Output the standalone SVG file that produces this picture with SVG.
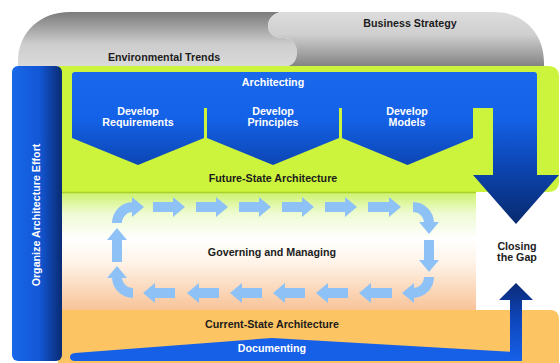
<svg xmlns="http://www.w3.org/2000/svg" width="560" height="363" viewBox="0 0 560 363">
<defs>
<style>
.t{font-family:"Liberation Sans",Arial,Helvetica,sans-serif;font-weight:bold;font-size:10.7px;text-anchor:middle}
.w{fill:#ffffff}
.k{fill:#1c1c1c}
.cy{fill:#8ec2f6}
.cys{fill:none;stroke:#8ec2f6;stroke-width:10}
</style>
<linearGradient id="gA" gradientUnits="userSpaceOnUse" x1="0" y1="12" x2="0" y2="66">
<stop offset="0" stop-color="#7b7b7b"/><stop offset="0.6" stop-color="#cdcdcd"/><stop offset="1" stop-color="#dadada"/>
</linearGradient>
<linearGradient id="gB" gradientUnits="userSpaceOnUse" x1="0" y1="12" x2="0" y2="66">
<stop offset="0" stop-color="#dcdcdc"/><stop offset="0.42" stop-color="#cfcfcf"/><stop offset="1" stop-color="#848484"/>
</linearGradient>
<linearGradient id="gBar" x1="0" y1="0" x2="1" y2="0">
<stop offset="0" stop-color="#1868ea"/><stop offset="0.55" stop-color="#1257d6"/><stop offset="1" stop-color="#0a2b72"/>
</linearGradient>
<linearGradient id="gArch" gradientUnits="userSpaceOnUse" x1="0" y1="72" x2="0" y2="224">
<stop offset="0" stop-color="#1a68ec"/><stop offset="0.3" stop-color="#1462e8"/><stop offset="0.62" stop-color="#0c45b2"/><stop offset="1" stop-color="#072a6e"/>
</linearGradient>
<linearGradient id="gGov" gradientUnits="userSpaceOnUse" x1="0" y1="192" x2="0" y2="310">
<stop offset="0" stop-color="#cdf26a"/><stop offset="0.18" stop-color="#eefbd2"/><stop offset="0.4" stop-color="#ffffff"/><stop offset="0.6" stop-color="#fff3e8"/><stop offset="1" stop-color="#f8c398"/>
</linearGradient>
<linearGradient id="gUp" gradientUnits="userSpaceOnUse" x1="0" y1="283" x2="0" y2="361">
<stop offset="0" stop-color="#0a2a78"/><stop offset="0.5" stop-color="#0f48bf"/><stop offset="1" stop-color="#1660e8"/>
</linearGradient>
</defs>

<rect width="560" height="363" fill="#ffffff"/>

<g id="environmental-trends">
<path d="M18,66 L18,62 C18,32 40,12 70,12 L280,12 C272,14 268,20 268,26 C268,33 274,38 283,38 C292,38 297,45 297,52 C297,60 293,65 288,66 Z" fill="url(#gA)"/>
<text class="t k" x="164" y="61">Environmental Trends</text>
</g>

<g id="business-strategy">
<path d="M280,12 L494,12 C524,12 544,34 544,62 L544,66 L288,66 C293,65 297,60 297,52 C297,45 292,38 283,38 C274,38 268,33 268,26 C268,20 272,14 280,12 Z" fill="url(#gB)"/>
<text class="t k" x="410" y="27">Business Strategy</text>
</g>

<g id="future-state-architecture">
<path d="M58,66 L548,66 Q559,66 559,77 L559,181 Q559,192 548,192 L58,192 Z" fill="#cdf43c"/>
<text class="t k" x="273" y="182">Future-State Architecture</text>
</g>

<g id="governing-and-managing">
<rect x="58" y="192" width="418" height="118" fill="url(#gGov)"/>
<line x1="58" y1="192.5" x2="476" y2="192.5" stroke="#a9d12e" stroke-width="1.5"/>
<text class="t k" x="272" y="256">Governing and Managing</text>
</g>

<g id="closing-the-gap">
<text class="t k" x="517" y="250">Closing</text>
<text class="t k" x="517" y="261">the Gap</text>
</g>

<g id="current-state-architecture">
<path d="M58,310 L550,310 Q559,310 559,319 L559,363 L58,363 Z" fill="#fcc462"/>
<text class="t k" x="272" y="328">Current-State Architecture</text>
</g>

<g id="organize-architecture-effort">
<rect x="12" y="66" width="50" height="295" rx="6" fill="url(#gBar)"/>
<text class="t w" transform="translate(40,215) rotate(-90)" x="0" y="0">Organize Architecture Effort</text>
</g>

<g id="architecting">
<path d="M72,108 L72,75 Q72,72 75,72 L534,72 Q537,72 537,75 L537,108 Z" fill="url(#gArch)"/>
<text class="t w" x="273" y="86">Architecting</text>
</g>

<g id="develop-requirements">
<path d="M72,105 L204,105 L204,138 L138,165 L72,138 Z" fill="url(#gArch)"/>
<text class="t w" x="138" y="115">Develop</text>
<text class="t w" x="138" y="126">Requirements</text>
</g>

<g id="develop-principles">
<path d="M207,105 L339,105 L339,138 L273,165 L207,138 Z" fill="url(#gArch)"/>
<text class="t w" x="273" y="115">Develop</text>
<text class="t w" x="273" y="126">Principles</text>
</g>

<g id="develop-models">
<path d="M342,105 L473,105 L473,138 L407.5,165 L342,138 Z" fill="url(#gArch)"/>
<text class="t w" x="407" y="115">Develop</text>
<text class="t w" x="407" y="126">Models</text>
</g>

<g id="documenting">
<path d="M70,357 Q70,353.5 75,353 L272,338 L516,352 L516,361 L75,361 Q70,361 70,357 Z" fill="#1660e8"/>
<text class="t w" x="272" y="352">Documenting</text>
</g>

<g id="connectors">
<path d="M493,104 L537,104 L537,175 L559,175 L516,224 L473,175 L493,175 Z" fill="url(#gArch)"/>
<path d="M510,361 L510,300 L499,300 L516,283 L533,300 L522,300 L522,361 Z" fill="url(#gUp)"/>
<g id="cycle">
<path class="cys" d="M117,223 A16,16 0 0 1 133,207"/>
<polygon class="cy" points="132,197 144,207 132,217"/>
<polygon class="cy" points="153,202 173,202 173,197 185,207 173,217 173,212 153,212"/>
<polygon class="cy" points="196,202 216,202 216,197 228,207 216,217 216,212 196,212"/>
<polygon class="cy" points="239,202 259,202 259,197 271,207 259,217 259,212 239,212"/>
<polygon class="cy" points="282,202 302,202 302,197 314,207 302,217 302,212 282,212"/>
<polygon class="cy" points="325,202 345,202 345,197 357,207 345,217 345,212 325,212"/>
<polygon class="cy" points="368,202 389,202 389,197 401,207 389,217 389,212 368,212"/>
<path class="cys" d="M413,207 A16,16 0 0 1 429,223"/>
<polygon class="cy" points="419,222 439,222 429,234"/>
<polygon class="cy" points="424,240 434,240 434,260 439,260 429,272 419,260 424,260"/>
<path class="cys" d="M429,277 A16,16 0 0 1 413,293"/>
<polygon class="cy" points="414,283 414,303 402,293"/>
<polygon class="cy" points="392,288 371,288 371,283 359,293 371,303 371,298 392,298"/>
<polygon class="cy" points="348,288 328,288 328,283 316,293 328,303 328,298 348,298"/>
<polygon class="cy" points="305,288 285,288 285,283 273,293 285,303 285,298 305,298"/>
<polygon class="cy" points="262,288 242,288 242,283 230,293 242,303 242,298 262,298"/>
<polygon class="cy" points="219,288 199,288 199,283 187,293 199,303 199,298 219,298"/>
<polygon class="cy" points="175,288 155,288 155,283 143,293 155,303 155,298 175,298"/>
<path class="cys" d="M133,293 A16,16 0 0 1 117,277"/>
<polygon class="cy" points="107,278 127,278 117,266"/>
<polygon class="cy" points="112,262 112,240 107,240 117,228 127,240 122,240 122,262"/>
</g>
</g>
</svg>
